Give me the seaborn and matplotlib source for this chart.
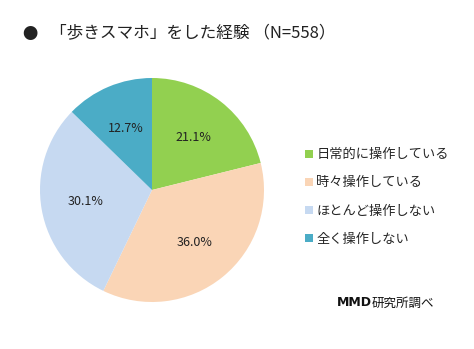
import matplotlib
matplotlib.use("Agg")
import matplotlib.pyplot as plt
import seaborn as sns
from matplotlib.patches import Patch

categories = ["日常的に操作している", "時々操作している", "ほとんど操作しない", "全く操作しない"]
values = [21.1, 36.0, 30.1, 12.7]
colors = ["#92D050", "#FAD5B6", "#C6D9F1", "#4BACC6"]
title = "「歩きスマホ」をした経験 （N=558）"

sns.set_theme(style="white")
plt.rcParams['font.family'] = ['Noto Sans CJK JP', 'DejaVu Sans']

W, H = 474, 349
fig = plt.figure(figsize=(W / 100, H / 100), dpi=100)
fig.patch.set_facecolor("white")

cx, cy, r = 152, 190, 112
ax = fig.add_axes([(cx - r) / W, (H - cy - r) / H, 2 * r / W, 2 * r / H])
total = sum(values)
wedges, texts, autotexts = ax.pie(
    values, colors=colors, startangle=90, counterclock=False,
    autopct=lambda p: f"{p * total / 100:.1f}%", pctdistance=0.6,
    textprops=dict(fontsize=9, color="#222222"),
    wedgeprops=dict(linewidth=0))
ax.set_xlim(-1, 1)
ax.set_ylim(-1, 1)
ax.set_aspect("equal")

handles = [Patch(facecolor=c, edgecolor="none") for c in colors]
fig.legend(handles, categories, loc="upper left", bbox_to_anchor=(300 / W, 1 - 143 / H),
           frameon=False, fontsize=9.5, handlelength=0.55, handleheight=0.55,
           handletextpad=0.3, labelspacing=1.15, borderaxespad=0)

fig.text(30 / W, 1 - 34 / H, "●", fontsize=11, va="center", ha="center", color="#222222")
fig.text(50 / W, 1 - 34 / H, title, fontsize=12, va="center", ha="left", color="#222222")

fig.text(337 / W, 1 - 303 / H, "MMD", fontsize=9, fontweight="bold", va="center", ha="left",
         color="#111111", family=["DejaVu Sans"])
fig.text(372 / W, 1 - 303 / H, "研究所調べ", fontsize=9, va="center", ha="left", color="#111111")

fig.savefig("out.png", dpi=100, facecolor="white")
